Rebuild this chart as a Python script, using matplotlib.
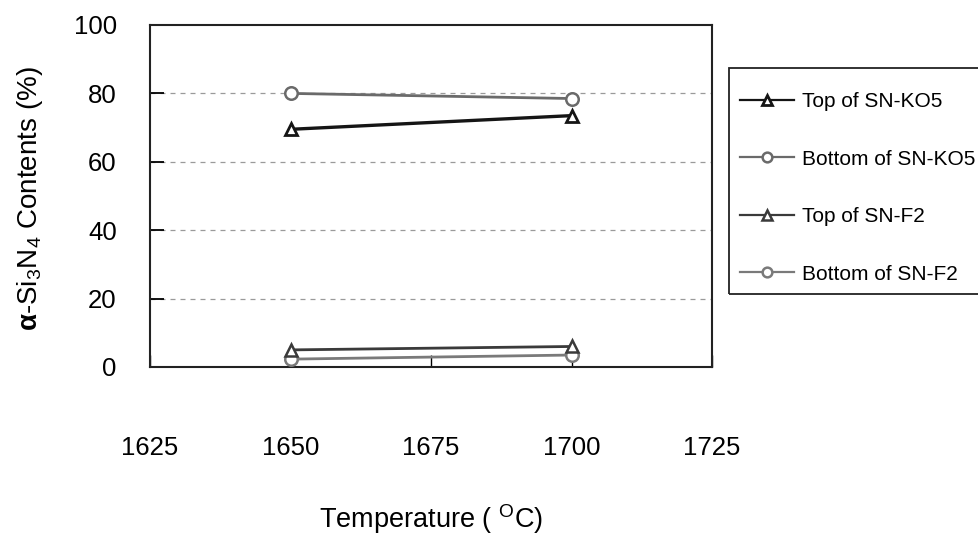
import matplotlib
matplotlib.use("Agg")
import matplotlib.pyplot as plt
from matplotlib.patches import Rectangle

plt.rcParams['font.family'] = ['Liberation Sans', 'DejaVu Sans']
plt.rcParams['mathtext.fontset'] = 'custom'
plt.rcParams['mathtext.rm'] = 'Liberation Sans'
plt.rcParams['mathtext.it'] = 'Liberation Sans:italic'
plt.rcParams['mathtext.bf'] = 'Liberation Sans:bold'

temperatures = [1650, 1700]
top_ko5 = [69.5, 73.5]
bottom_ko5 = [80.0, 78.5]
top_f2 = [5.0, 6.0]
bottom_f2 = [2.3, 3.5]
series_labels = ["Top of SN-KO5", "Bottom of SN-KO5", "Top of SN-F2", "Bottom of SN-F2"]
x_ticks = [1625, 1650, 1675, 1700, 1725]
y_ticks = [0, 20, 40, 60, 80, 100]

W, H = 979, 537
fig = plt.figure(figsize=(W/100, H/100), dpi=100)
ax = fig.add_axes([150/W, 1-367/H, (712-150)/W, (367-25)/H])

styles = [
    dict(color='#151515', marker='^', lw=2.4, ms=8, mew=2.0, zorder=5),
    dict(color='#6a6a6a', marker='o', lw=2.0, ms=9, mew=1.8, zorder=4),
    dict(color='#3a3a3a', marker='^', lw=2.0, ms=8, mew=1.8, zorder=4),
    dict(color='#7a7a7a', marker='o', lw=2.0, ms=9, mew=1.8, zorder=3),
]
for vals, lab, st in zip([top_ko5, bottom_ko5, top_f2, bottom_f2], series_labels, styles):
    ax.plot(temperatures, vals, label=lab, mfc='white', mec=st['color'], **st)

ax.set_xlim(1625, 1725)
ax.set_ylim(0, 100)
ax.set_xticks(x_ticks)
ax.set_yticks(y_ticks)
for y in y_ticks[1:-1]:
    ax.axhline(y, color='#9a9a9a', lw=0.9, ls=(0, (4, 4)), zorder=1)

ax.tick_params(axis='x', direction='in', length=9, width=1.0, pad=50, labelsize=18.5)
ax.tick_params(axis='y', direction='in', length=10, width=1.3, pad=24, labelsize=18.5)
for s in ax.spines.values():
    s.set_linewidth(1.5)
    s.set_color('#222222')

fig.text(431/W, 1-528/H, r'Temperature ( $^{\mathrm{O}}$C)', fontsize=19.5,
         ha='center', va='baseline')
fig.text(30/W, 1-199/H, r'$\mathbf{\alpha}$-Si$_3$N$_4$ Contents (%)', rotation=90,
         fontsize=20, ha='center', va='center')

# legend frame drawn as a rectangle, entries placed without frame
ax.add_patch(Rectangle((729/W, 1-294/H), (W+10-729)/W, (294-68)/H,
                       transform=fig.transFigure, facecolor='none',
                       edgecolor='#222222', linewidth=1.3, zorder=2,
                       clip_on=False))
leg = ax.legend(loc='upper left', bbox_to_anchor=(740/W, 1-92/H),
                bbox_transform=fig.transFigure, fontsize=15, frameon=False,
                handlelength=2.6, handletextpad=0.4, labelspacing=1.85,
                borderpad=0, borderaxespad=0)
for h in leg.legend_handles:
    h.set_markersize(7)
    h.set_linewidth(1.6)

fig.savefig('out.png', dpi=100)
